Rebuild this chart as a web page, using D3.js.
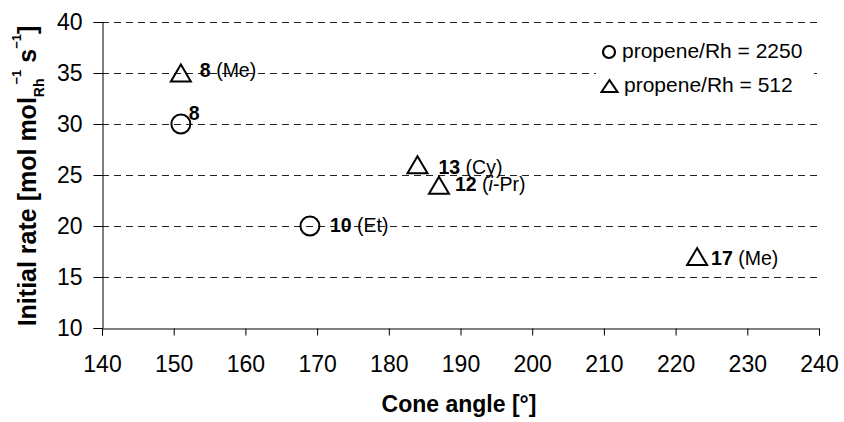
<!DOCTYPE html>
<html><head><meta charset="utf-8">
<script src="https://cdn.jsdelivr.net/npm/d3@7"></script>
<style>body{margin:0;background:#fff}svg{display:block}text{font-family:"Liberation Sans",Arial,sans-serif}</style>
</head><body><svg id="c" width="844" height="422"></svg>
<script>
const xTicks = [140,150,160,170,180,190,200,210,220,230,240];
const yTicks = [10,15,20,25,30,35,40];
const circleX = [151,169];
const circleY = [30,20];
const circleNum = ["8","10"];
const circleSub = [""," (Et)"];
const triX = [151,184,187,223];
const triY = [35,26,24,17];
const triNum = ["8","13","12","17"];
const triSub = [" (Me)"," (Cy)"," (i-Pr)"," (Me)"];
const legendLabels = ["propene/Rh = 2250","propene/Rh = 512"];

const svg = d3.select("#c");
const x = d3.scaleLinear().domain([140,240]).range([102,819]);
const y = d3.scaleLinear().domain([10,40]).range([328,22]);

// gridlines
svg.append("g").selectAll("line").data(yTicks.filter(d=>d>10)).join("line")
  .attr("x1",102).attr("x2",819).attr("y1",d=>Math.round(y(d))+0.5).attr("y2",d=>Math.round(y(d))+0.5)
  .attr("stroke","#222").attr("stroke-width",1).attr("stroke-dasharray","7,5");

// axes
const xa = svg.append("g").attr("transform","translate(0,328.5)")
  .call(d3.axisBottom(x).tickValues(xTicks).tickSize(7).tickPadding(20).tickFormat(d3.format("d")));
const ya = svg.append("g").attr("transform","translate(102.5,0)")
  .call(d3.axisLeft(y).tickValues(yTicks).tickSize(9).tickPadding(11).tickFormat(d3.format("d")));
[xa,ya].forEach(a=>{
  a.select(".domain").attr("stroke","#000");
  a.selectAll(".tick line").attr("stroke","#000");
  a.selectAll("text").attr("font-size",23).attr("fill","#000").attr("font-family","Liberation Sans, Arial, sans-serif");
});

// legend box
svg.append("rect").attr("x",596).attr("y",40).attr("width",218).attr("height",64).attr("fill","#fff");

const triPath = "M0,-8.5L10,8.5L-10,8.5Z";

// circles
svg.append("g").selectAll("circle").data(circleX).join("circle")
  .attr("cx",d=>x(d)).attr("cy",(d,i)=>y(circleY[i])).attr("r",9.5)
  .attr("fill","none").attr("stroke","#000").attr("stroke-width",2);
// triangles
svg.append("g").selectAll("path").data(triX).join("path")
  .attr("d",triPath).attr("transform",(d,i)=>`translate(${x(d)},${y(triY[i])})`)
  .attr("fill","none").attr("stroke","#000").attr("stroke-width",2);

function label(px,py,num,sub){
  const t = svg.append("text").attr("x",px).attr("y",py).attr("font-size",19.5).attr("fill","#000");
  t.append("tspan").attr("font-weight","bold").text(num);
  if(sub){
    if(sub.indexOf("i-")>=0){
      t.append("tspan").text(" (");
      t.append("tspan").attr("font-style","italic").text("i");
      t.append("tspan").text("-Pr)");
    } else t.append("tspan").text(sub);
  }
}
// circle labels
const cirOff = [[8,-4],[20,6]];
circleX.forEach((d,i)=>label(x(d)+cirOff[i][0], y(circleY[i])+cirOff[i][1], circleNum[i], circleSub[i]));
// triangle labels
const triOff = [[19,4],[21,9],[16,6],[14,8]];
triX.forEach((d,i)=>label(x(d)+triOff[i][0], y(triY[i])+triOff[i][1], triNum[i], triSub[i]));

// legend
const lg = svg.append("g");
lg.append("circle").attr("cx",609).attr("cy",52).attr("r",6).attr("fill","none").attr("stroke","#000").attr("stroke-width",2.2);
lg.append("path").attr("d","M0,-6L8,6L-8,6Z").attr("transform","translate(609.5,86)")
  .attr("fill","none").attr("stroke","#000").attr("stroke-width",2);
lg.selectAll("text").data(legendLabels).join("text")
  .attr("x",(d,i)=>622+i*2).attr("y",(d,i)=>58+i*34).attr("font-size",21).attr("fill","#000").text(d=>d);

// axis titles
svg.append("text").attr("x",459).attr("y",412).attr("text-anchor","middle").attr("font-size",23)
  .attr("font-weight","bold").text("Cone angle [°]");
const yt = svg.append("text").attr("transform","translate(36,176) rotate(-90)").attr("text-anchor","middle")
  .attr("font-size",25).attr("font-weight","bold");
yt.append("tspan").text("Initial rate [mol mol");
yt.append("tspan").attr("font-size",14).attr("dy",8).text("Rh");
yt.append("tspan").attr("font-size",13).attr("dy",-23).attr("dx",-6).text("−1");
yt.append("tspan").attr("dy",15).text(" s");
yt.append("tspan").attr("font-size",13).attr("dy",-15).text("−1");
yt.append("tspan").attr("dy",15).text("]");
</script></body></html>
